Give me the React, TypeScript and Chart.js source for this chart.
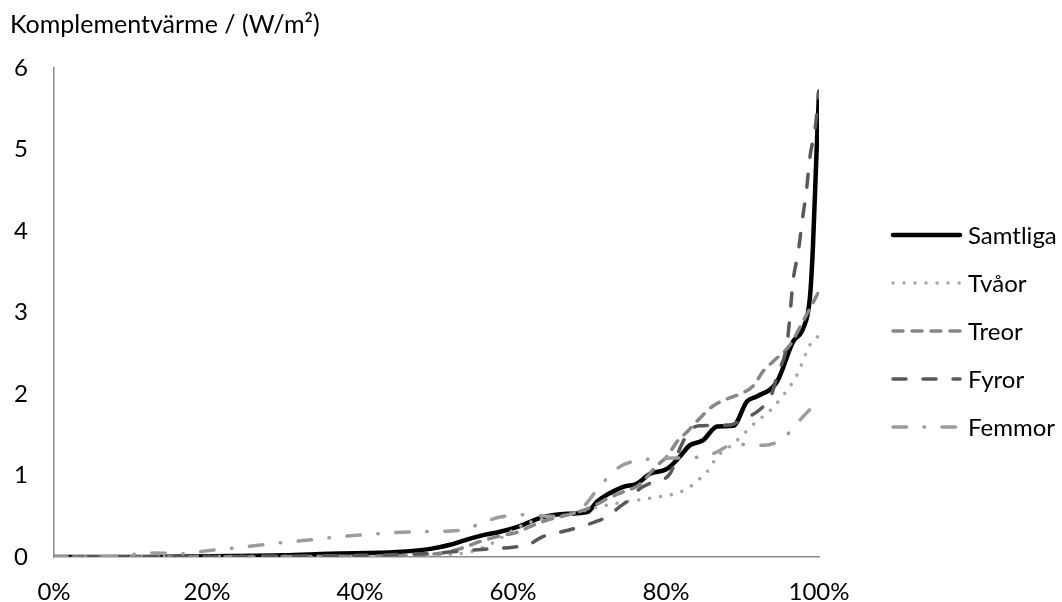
import React, { useEffect, useRef } from "react";
import { Chart, registerables } from "chart.js";

Chart.register(...registerables);

// ---- Data (x = share in %, y = W/m²) ----
const SERIES_NAMES = ["Samtliga", "Tvåor", "Treor", "Fyror", "Femmor"];

const X_SAMTLIGA = [0, 10, 20, 30, 36, 44.8, 49.2, 51.8, 53.5, 55.7, 58.3, 60.9, 63.9, 67.1, 69.7, 71, 74.4, 76.2, 77.9, 80.1, 81.8, 83.1, 84.8, 86.7, 88.8, 90.6, 91.9, 94.5, 96.6, 97.9, 98.8, 99.2, 99.7, 100];
const Y_SAMTLIGA = [0, 0, 0.01, 0.02, 0.04, 0.06, 0.1, 0.15, 0.2, 0.26, 0.31, 0.38, 0.49, 0.53, 0.55, 0.68, 0.86, 0.9, 1.02, 1.08, 1.23, 1.37, 1.43, 1.6, 1.61, 1.91, 1.97, 2.15, 2.64, 2.8, 3.17, 3.79, 5.02, 5.7];

const X_TVAOR = [0, 30, 45, 52, 55, 57.5, 59.5, 61.5, 63.5, 66, 68.5, 71.4, 75.7, 79.2, 80.9, 82.8, 84.4, 85.4, 86.7, 88.8, 90.6, 91.9, 93.2, 95.3, 97.1, 98.8, 100];
const Y_TVAOR = [0, 0.01, 0.01, 0.03, 0.08, 0.18, 0.3, 0.4, 0.46, 0.5, 0.55, 0.62, 0.69, 0.74, 0.77, 0.84, 0.96, 1.05, 1.23, 1.39, 1.55, 1.67, 1.76, 1.98, 2.23, 2.6, 2.72];

const X_TREOR = [0, 40, 50, 53, 56, 58.4, 60.4, 62.4, 64.4, 66.4, 68.4, 70.4, 72.4, 74.4, 76.4, 78.8, 80.1, 81.4, 82.8, 84.4, 86.1, 88, 89.7, 91.4, 92.7, 94, 96.2, 97.9, 100];
const Y_TREOR = [0, 0.01, 0.04, 0.1, 0.2, 0.26, 0.3, 0.38, 0.45, 0.5, 0.55, 0.62, 0.72, 0.8, 0.88, 1.12, 1.23, 1.41, 1.54, 1.7, 1.85, 1.94, 2.0, 2.1, 2.28, 2.4, 2.6, 2.89, 3.26];

const X_FYROR = [0, 40, 50, 54, 57, 60, 62, 63.9, 66, 68, 69.8, 71, 72.4, 74, 75.4, 76.6, 78.3, 80.5, 81.9, 83.1, 84.4, 88.4, 89.7, 92.4, 93.7, 94.6, 95.8, 96.2, 96.6, 97.3, 97.8, 98.4, 98.8, 99.5, 100];
const Y_FYROR = [0, 0.02, 0.05, 0.08, 0.1, 0.12, 0.15, 0.25, 0.3, 0.35, 0.4, 0.44, 0.5, 0.62, 0.72, 0.84, 0.92, 1.02, 1.35, 1.55, 1.61, 1.62, 1.67, 1.82, 1.97, 2.25, 2.6, 2.96, 3.38, 3.75, 4.12, 4.53, 4.9, 5.26, 5.72];

const X_FEMMOR = [0, 8, 13, 17, 19.5, 23.4, 29.2, 34.4, 38.7, 47.5, 53.5, 55.7, 58.3, 61.8, 64.8, 68.4, 69.8, 71.1, 74, 76.2, 79.6, 84.8, 86.7, 88.4, 91, 92.9, 95.2, 97.9, 99.7];
const Y_FEMMOR = [0, 0.01, 0.05, 0.04, 0.07, 0.11, 0.17, 0.22, 0.26, 0.31, 0.33, 0.41, 0.49, 0.52, 0.5, 0.55, 0.68, 0.84, 1.11, 1.18, 1.21, 1.23, 1.29, 1.37, 1.38, 1.37, 1.45, 1.72, 1.9];

const X_TICKS_STEP = 20;
const Y_AXIS_TITLE = "Komplementvärme / (W/m²)";

const FONT = "Lato, 'Open Sans', sans-serif";

const pts = (xs: number[], ys: number[]) => xs.map((x, i) => ({ x, y: ys[i] }));

const STYLES = [
  { color: "#000000", width: 4.5, dash: [] as number[] },
  { color: "#a6a6a6", width: 3.5, dash: [0.01, 11] },
  { color: "#878787", width: 3.5, dash: [10, 9] },
  { color: "#595959", width: 3.5, dash: [13, 17] },
  { color: "#9c9c9c", width: 3.5, dash: [13.5, 17.5, 0.5, 17.5] },
];

const SERIES = [
  pts(X_SAMTLIGA, Y_SAMTLIGA),
  pts(X_TVAOR, Y_TVAOR),
  pts(X_TREOR, Y_TREOR),
  pts(X_FYROR, Y_FYROR),
  pts(X_FEMMOR, Y_FEMMOR),
];

const titleAndLegend = {
  id: "titleAndLegend",
  afterDraw(chart: any) {
    const ctx = chart.ctx as CanvasRenderingContext2D;
    ctx.save();
    ctx.fillStyle = "#000";
    ctx.font = `25px ${FONT}`;
    ctx.textAlign = "left";
    ctx.textBaseline = "alphabetic";
    ctx.fillText(Y_AXIS_TITLE, 10, 33);

    const x0 = 893;
    const x1 = 960;
    chart.data.datasets.forEach((ds: any, i: number) => {
      const y = 235 + i * 48;
      ctx.save();
      ctx.strokeStyle = ds.borderColor;
      ctx.lineWidth = ds.borderWidth;
      ctx.lineCap = "round";
      ctx.setLineDash(ds.borderDash || []);
      ctx.beginPath();
      ctx.moveTo(x0, y);
      ctx.lineTo(x1, y);
      ctx.stroke();
      ctx.restore();
      ctx.fillStyle = "#000";
      ctx.font = `24px ${FONT}`;
      ctx.textBaseline = "middle";
      ctx.fillText(ds.label, 968, y + 1);
    });
    ctx.restore();
  },
};

export default function App() {
  const ref = useRef<HTMLCanvasElement | null>(null);
  useEffect(() => {
    if (!ref.current) return;
    const chart = new Chart(ref.current, {
      type: "line",
      data: {
        datasets: SERIES.map((data, i) => ({
          label: SERIES_NAMES[i],
          data,
          borderColor: STYLES[i].color,
          backgroundColor: STYLES[i].color,
          borderWidth: STYLES[i].width,
          borderDash: STYLES[i].dash,
          borderCapStyle: "round",
          borderJoinStyle: "round",
          pointRadius: 0,
          pointHoverRadius: 0,
          fill: false,
          cubicInterpolationMode: "monotone",
          order: SERIES.length - i,
        })),
      },
      options: {
        responsive: false,
        animation: false,
        events: [],
        layout: { padding: { top: 68, right: 243, left: 0, bottom: 0 } },
        plugins: {
          legend: { display: false },
          tooltip: { enabled: false },
          title: { display: false },
        },
        scales: {
          x: {
            type: "linear",
            min: 0,
            max: 100,
            afterFit: (s: any) => {
              s.height = 45;
            },
            grid: { display: false, drawTicks: false },
            border: { display: true, color: "#8c8c8c", width: 1.5 },
            ticks: {
              stepSize: X_TICKS_STEP,
              padding: 21,
              color: "#000",
              font: { family: FONT, size: 24 },
              maxRotation: 0,
              callback: (v: any) => `${v}%`,
            },
          },
          y: {
            type: "linear",
            min: 0,
            max: 6,
            afterFit: (s: any) => {
              s.width = 54;
            },
            grid: { display: false, drawTicks: false },
            border: { display: true, color: "#8c8c8c", width: 1.5 },
            ticks: {
              stepSize: 1,
              padding: 26,
              color: "#000",
              font: { family: FONT, size: 24 },
            },
          },
        },
      },
      plugins: [titleAndLegend],
    });
    return () => chart.destroy();
  }, []);
  return (
    <div style={{ position: "absolute", left: 0, top: 0, width: 1062, height: 602, background: "#fff" }}>
      <canvas ref={ref} width={1062} height={602} style={{ display: "block" }} />
    </div>
  );
}
